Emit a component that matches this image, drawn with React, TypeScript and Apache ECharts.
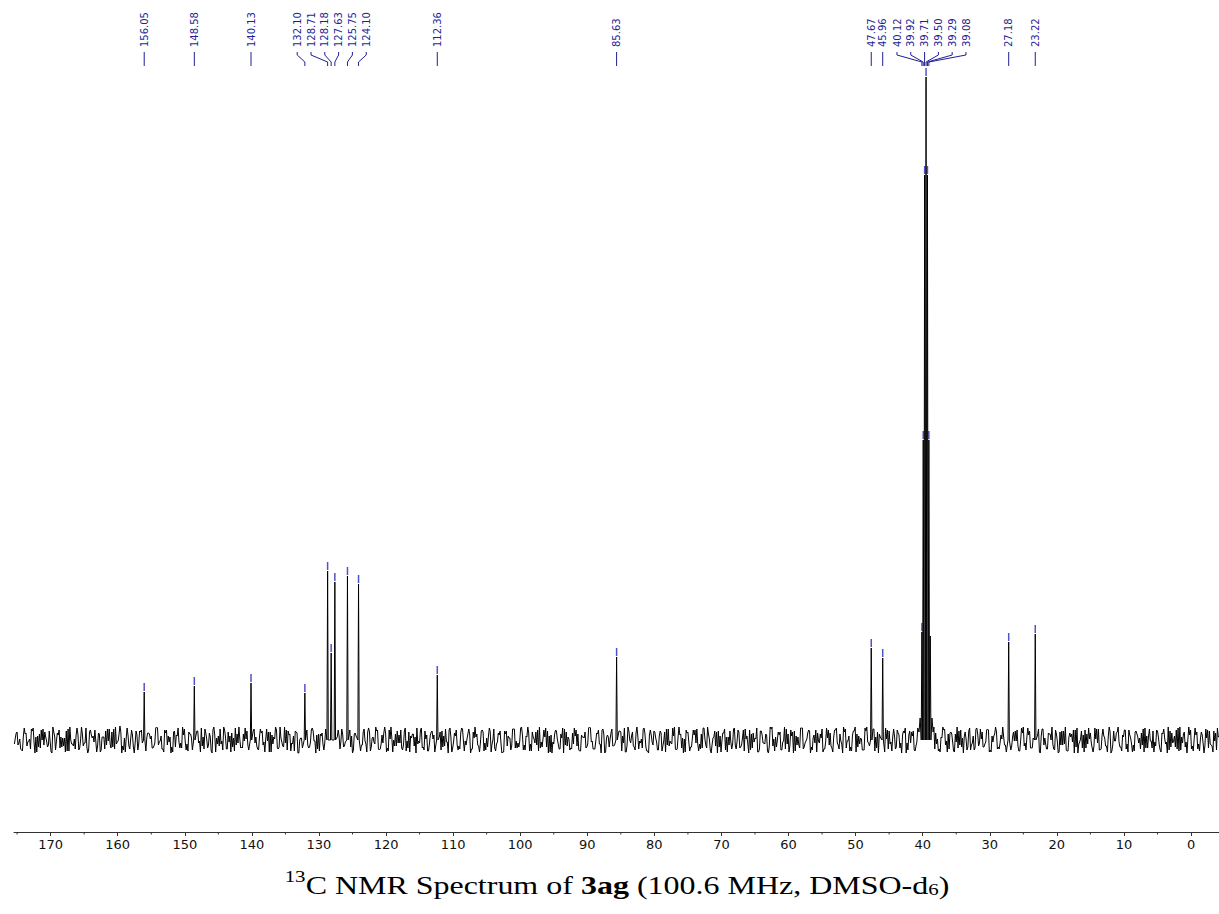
import React, { useEffect, useRef } from "react";
import * as echarts from "echarts";

// ---------- axis ----------
const X_MIN = -4.17;
const X_MAX = 175.46;
const Y_MIN = -92;
const Y_MAX = 700;
const MAJOR_TICKS = [170, 160, 150, 140, 130, 120, 110, 100, 90, 80, 70, 60, 50, 40, 30, 20, 10, 0];
const MINOR_TICKS = [175, 165, 155, 145, 135, 125, 115, 105, 95, 85, 75, 65, 55, 45, 35, 25, 15, 5];

// ---------- labelled peaks ----------
const PEAK_LABELS = [
  "156.05", "148.58", "140.13", "132.10", "128.71", "128.18", "127.63", "125.75", "124.10",
  "112.36", "85.63", "47.67", "45.96", "40.12", "39.92", "39.71", "39.50", "39.29", "39.08",
  "27.18", "23.22",
];
const PEAK_PPM = [
  156.05, 148.58, 140.13, 132.1, 128.71, 128.18, 127.63, 125.75, 124.1,
  112.36, 85.63, 47.67, 45.96, 40.12, 39.92, 39.71, 39.5, 39.29, 39.08,
  27.18, 23.22,
];
const PEAK_HEIGHT = [
  48, 54, 57, 47, 169, 87, 158, 164, 156,
  65, 83, 92, 82, 108, 300, 565, 663, 565, 300,
  98, 106,
];

// unlabelled solvent line and broadened solvent foot
const EXTRA_PPM = [38.87];
const EXTRA_HEIGHT = [104];
const FOOT_PPM = [40.55, 40.38, 38.62, 38.45];
const FOOT_VAL = [8, 22, 22, 8];

// ---------- baseline noise ----------
// three interleaved traces: A at NOISE_START - i*STEP, B a third of a step further, C two thirds
const NOISE_START = 175.4;
const NOISE_STEP = 0.4;
const NOISE_A = [
  -4, 8, 1, -11, 6, -2, -9, 12, 3, -7, 10, -5, -1, 9, -13, 4, 7, -8, 2, -12, 11, 0, -6, 5, -10, 13, -3, -7, 8, 2,
  10, -6, -12, 3, 9, -1, -8, 11, -4, 6, -13, 2, 12, -9, 5, -3, -10, 8, 1, -11, 7, 4, -6, 13, -2, -9, 10, -5, 3, -12,
  -7, 12, -3, 5, -10, 8, 2, -13, 9, -1, -6, 11, -8, 3, 10, -12, 4, -4, 13, -9, -2, 7, -11, 6, 1, -8, 12, -5, -10, 9,
  3, -10, 7, -2, 11, -12, 5, 1, -8, 13, -6, -3, 9, -11, 4, 8, -13, 2, -5, 10, -7, 12, -1, -9, 6, -4, 11, -12, 3, 7,
  -9, 4, 11, -6, -1, 10, -13, 7, 3, -11, 8, -4, 12, -7, -2, 9, -10, 5, 13, -8, 1, -12, 6, -3, 10, -5, -11, 8, 2, -6,
  12, -3, -8, 9, -11, 5, 1, -7, 13, -10, 4, -2, 10, -12, 7, -5, -9, 11, -1, 6, -13, 8, 3, -6, 9, -11, 2, 12, -4, -8,
  -2, 9, -12, 6, 4, -10, 11, -1, -7, 13, -5, 3, -11, 8, -3, 10, -8, 1, 12, -13, 5, -4, 9, -9, 2, 11, -6, -10, 7, 4,
  6, -11, 3, -8, 12, -2, -9, 7, -4, 10, -13, 5, 1, -6, 11, -10, 8, -3, -12, 9, 4, -7, 13, -1, -8, 6, -11, 10, -5, 2,
  -10, 7, -1, 11, -6, -4, 13, -9, 5, 2, -12, 8, -7, 10, -3, -11, 6, 12, -8, 1, -5, 9, -13, 4, 7, -10, 3, -2, 11, -9,
  8, -5, -11, 4, 10, -8, 2, -12, 9, -3, 6, -13, 11, 1, -7, 5, -10, 13, -4, -6, 8, -11, 3, 12, -9, -1, 10, -7, 5, -12,
  -3, 11, -9, 2, 7, -12, 10, -5, -1, 13, -8, 4, -11, 9, 6, -4, -10, 12, -2, -7, 11, 3, -13, 8, -6, 1, 9, -11, 4, 10,
  -8, 5, 12, -10, -3, 9, -6, 11, -13, 2, 7, -4, 10, -9, 1, -12, 13, -5, 6, 8, -11, -2, 9, -7, 4, -10, 12, -3, -8, 6,
  11, -7, -2, 10, -12, 4, 8, -9, 1, -5, 12, -11, 3, 9, -6, -1, 13, -10, 5, -8, 7, -3, -12, 11, 2, -9, 6, -4, 10, -13,
  -5, 9, -10, 3, 6, -13, 12, -2, -8, 10, -4, 7, -12, 1, 11, -9, 4, -6, 13, -11, -1, 8, -7, 5, 10, -12, 2, -5, 9, -3,
  7, -12, 4, 11, -8, -2, 9, -10, 6, -4, 13, -7, -1, 10, -11, 3, 8, -13, 5, -6, 12, -9, 1, -3, 11, -8, -5, 9, -10, 4,
];
const NOISE_B = [
  2, -5, -9, 4, 7, -1, 11, -3, -12, 6, 0, 8, -7, -2, 13, -10, 5, 3, -6, 9, -11, -4, 1, 12, -8, 6, -3, -13, 10, 4,
  -1, 7, -10, 3, -5, 11, 8, -9, -2, 14, -6, -12, 5, 1, -7, 9, -4, 10, -11, 2, 6, -8, -3, 12, -1, -9, 7, 4, -13, 8,
  5, -2, -8, 11, -4, 6, -10, 0, 9, -12, 3, 7, -5, -11, 13, 2, -6, -1, 10, -9, 4, -7, 12, -3, -8, 6, 1, -10, 5, 11,
  -6, 3, 9, -12, -1, 8, -4, 13, -9, 2, -7, 10, 5, -3, -11, 7, 0, -8, 12, -5, -2, 9, -13, 6, 4, -10, 8, -1, -6, 11,
  3, -9, 6, -2, 12, -7, -10, 4, 1, -5, 11, -12, 8, 2, -4, 10, -9, -3, 7, -11, 13, 0, -6, 5, -8, 9, -1, -12, 6, 3,
  -4, 10, -7, 1, -11, 8, 5, -13, 3, 9, -6, -2, 12, -8, 4, -10, 7, -1, -5, 11, -9, 2, 6, -12, 10, -3, -7, 8, 0, -11,
  7, -3, -12, 9, 2, -6, 11, -8, -1, 5, -10, 13, -4, 3, 8, -11, -2, 10, -7, 4, -13, 6, 1, -9, 12, -5, 3, -8, -4, 10,
  -10, 5, 2, -7, 13, -1, -9, 6, -4, 11, -12, 3, 7, -6, -2, 9, -11, 12, -5, 0, 8, -10, 4, -3, 11, -7, -13, 5, 9, -2,
  4, -11, 8, -5, -1, 12, -9, 3, 6, -13, 10, -2, -7, 5, 11, -4, -8, 1, 13, -10, 2, -6, 9, -12, 7, 3, -5, -9, 12, -1,
  -8, 2, 11, -4, -10, 7, 1, -12, 9, -3, 5, -6, 13, -11, 0, 8, -2, -9, 6, 10, -13, 4, -5, 12, -7, 1, 9, -10, -3, 7,
  6, -12, -2, 10, -6, 3, 12, -9, -4, 8, -1, -11, 5, 13, -7, 2, -10, 9, -3, -5, 11, -8, 6, 0, -12, 10, -4, 3, -9, 7,
  -3, 9, -13, 5, 8, -10, -2, 11, -6, 1, 12, -8, -4, 7, -11, 3, 10, -1, -9, 6, -12, 13, -5, 2, 8, -7, -10, 4, 11, -6,
  1, -7, 10, -12, 4, 6, -9, -3, 13, -5, 2, -10, 8, -1, -11, 12, -6, 3, 9, -8, -2, 5, -13, 11, -4, 7, 0, -9, 6, -12,
  9, -4, -11, 7, -2, 10, -13, 1, 5, -8, 12, -3, -6, 11, -10, 4, 2, -12, 8, -5, -1, 13, -7, 3, -9, 10, -4, -11, 6, 2,
  -5, 12, -8, -1, 9, -6, 3, -12, 11, -2, -10, 7, 4, -9, 13, -3, -7, 1, 10, -11, 5, -4, 8, -13, 2, 9, -6, -1, 12, -8,
];
const NOISE_C = [
  7, -3, -10, 12, -6, 1, 9, -13, 4, -8, 11, 3, -5, -12, 8, -1, 10, -7, 2, -11, 13, -4, -9, 6, 0, -6, 12, -10, 5, -2,
  -12, 6, 3, -9, 11, -4, -7, 13, -1, 8, -10, 2, -6, 10, -13, 5, 9, -3, -11, 7, 1, -8, 12, -5, 4, -12, 10, -2, -7, 9,
  4, -8, 13, -2, -11, 6, 10, -6, -3, 12, -9, 1, 7, -13, 5, -4, 11, -10, 3, 8, -12, 2, -5, 13, -7, -1, 9, -11, 6, -3,
  -9, 11, -5, 1, 8, -12, 3, 10, -7, -2, 13, -10, 6, -4, 9, -13, 2, 12, -6, -8, 10, -1, 5, -11, 7, -3, 11, -9, 1, 13,
  10, -2, -7, 9, -13, 4, 6, -10, 12, -5, -1, 8, -11, 3, 13, -9, -4, 7, -12, 10, 2, -6, 9, -3, -10, 12, -8, 4, 6, -13,
  -1, 12, -10, 5, -4, 9, -12, 2, 8, -7, 11, -13, 3, -2, 10, -6, 12, -11, 1, 6, -9, 13, -5, -3, 8, -10, 4, -12, 11, -4,
  5, -13, 9, -6, 2, 11, -8, -3, 12, -10, 4, 7, -11, 1, -5, 13, -7, 3, 9, -12, -2, 10, -4, 6, -13, 8, 1, -9, 12, -6,
  -11, 3, 8, -4, 12, -9, -1, 10, -13, 6, 2, -7, 11, -5, -10, 9, 4, -12, 13, -3, -6, 7, -9, 1, 12, -11, 5, -2, 8, -10,
  9, -6, -12, 11, -3, 4, -10, 13, -8, 1, 7, -11, 2, 10, -4, -9, 12, -5, 6, -13, 3, 8, -7, -1, 11, -12, 9, -4, -6, 10,
  -7, 10, 1, -13, 6, -2, 12, -9, 5, -4, -11, 13, -6, 3, 8, -10, -1, 11, -12, 4, 9, -5, -8, 12, -3, 7, -13, 2, 10, -1,
  2, -9, 12, -5, -8, 10, -3, 6, -13, 11, -1, -7, 9, -12, 4, 1, -10, 13, -6, 5, -11, 8, 3, -4, 12, -9, -2, 11, -7, 5,
  -13, 7, -3, 9, 4, -11, 12, -1, -6, 8, -10, 5, 13, -4, -9, 2, 11, -12, 7, -2, 6, -8, 10, -13, 1, 9, -5, -10, 12, -3,
  8, -4, 11, -10, -2, 13, -7, 5, 3, -12, 9, -6, -1, 10, -11, 7, -3, 12, -8, 2, -13, 11, 4, -5, -9, 6, 13, -10, -1, 8,
  -5, 13, -11, 3, 10, -7, -4, 9, -12, 6, 1, -8, 12, -3, -10, 11, -6, 4, -13, 9, 7, -2, -11, 10, -4, 5, -12, 8, 3, -9,
  11, -8, 4, -1, -12, 10, -5, 7, 2, -13, 9, -3, -7, 12, -10, 6, -2, 13, -9, 1, 8, -11, 5, -6, 10, -4, -12, 7, 3, -7,
];

// ---------- layout / style ----------
const BLUE = "#1f1f96";
const MARK_BLUE = "#5252c8";
const PEAK_HALF_WIDTH = 0.1;
const NOISE_GAP = 0.25;
const SOLVENT_GAP = [38.4, 40.6];
const LABEL_SPACING = 13.8;
const LABEL_CLUSTERS = [
  { from: 3, to: 8, shift: 0 },
  { from: 13, to: 18, shift: 6.1 },
];
const LABEL_BOTTOM = 47;
const CONNECT_TOP = 52;
const CONNECT_BEND1 = 55;
const CONNECT_BEND2 = 62;
const CONNECT_END = 66;

function buildSpectrum(): [number, number][] {
  const pts: [number, number][] = [];
  const allPeaks = PEAK_PPM.concat(EXTRA_PPM);
  const addNoise = (x: number, v: number) => {
    if (allPeaks.some((p) => Math.abs(p - x) < NOISE_GAP)) return;
    if (x > SOLVENT_GAP[0] && x < SOLVENT_GAP[1]) return;
    pts.push([x, v]);
  };
  NOISE_A.forEach((v, i) => addNoise(NOISE_START - i * NOISE_STEP, v));
  NOISE_B.forEach((v, i) => addNoise(NOISE_START - NOISE_STEP / 3 - i * NOISE_STEP, v));
  NOISE_C.forEach((v, i) => addNoise(NOISE_START - (2 * NOISE_STEP) / 3 - i * NOISE_STEP, v));
  const addPeak = (p: number, h: number) => {
    pts.push([p + PEAK_HALF_WIDTH, 0]);
    pts.push([p, h]);
    pts.push([p - PEAK_HALF_WIDTH, 0]);
  };
  PEAK_PPM.forEach((p, i) => addPeak(p, PEAK_HEIGHT[i]));
  EXTRA_PPM.forEach((p, i) => addPeak(p, EXTRA_HEIGHT[i]));
  FOOT_PPM.forEach((p, i) => pts.push([p, FOOT_VAL[i]]));
  pts.sort((a, b) => b[0] - a[0]);
  return pts;
}

function labelPositions(px: number[]): number[] {
  const out = px.slice();
  LABEL_CLUSTERS.forEach((c) => {
    const n = c.to - c.from + 1;
    const center = (px[c.from] + px[c.to]) / 2 + c.shift;
    for (let k = 0; k < n; k++) out[c.from + k] = center + (k - (n - 1) / 2) * LABEL_SPACING;
  });
  return out;
}

export default function App() {
  const ref = useRef<HTMLDivElement>(null);

  useEffect(() => {
    if (!ref.current) return;
    const chart = echarts.init(ref.current, null, { renderer: "svg" });
    const spectrum = buildSpectrum();

    const option: any = {
      animation: false,
      backgroundColor: "#ffffff",
      grid: { left: 14, right: 0, top: 40, bottom: 82, containLabel: false },
      xAxis: {
        type: "value",
        min: X_MIN,
        max: X_MAX,
        inverse: true,
        position: "bottom",
        axisLine: { show: true, onZero: false, lineStyle: { color: "#333", width: 1 } },
        axisTick: {
          show: true,
          customValues: MAJOR_TICKS,
          length: 4,
          lineStyle: { color: "#333", width: 1 },
        },
        axisLabel: {
          show: true,
          customValues: MAJOR_TICKS,
          fontSize: 13,
          fontFamily: "DejaVu Sans",
          color: "#111",
          margin: 6,
        },
        splitLine: { show: false },
      },
      yAxis: {
        type: "value",
        min: Y_MIN,
        max: Y_MAX,
        show: false,
        splitLine: { show: false },
      },
      series: [
        {
          type: "line",
          data: spectrum,
          showSymbol: false,
          symbol: "none",
          silent: true,
          clip: true,
          lineStyle: { color: "#000", width: 1 },
        },
        {
          type: "custom",
          silent: true,
          data: MINOR_TICKS.map((v) => [v, Y_MIN]),
          renderItem: (params: any, api: any) => {
            const p = api.coord([api.value(0), Y_MIN]);
            return {
              type: "line",
              shape: { x1: p[0], y1: p[1], x2: p[0], y2: p[1] + 2.5 },
              style: { stroke: "#333", lineWidth: 1 },
            };
          },
        },
        {
          type: "custom",
          silent: true,
          clip: false,
          data: PEAK_PPM.map((p, i) => [p, PEAK_HEIGHT[i]]),
          renderItem: (params: any, api: any) => {
            const i = params.dataIndex;
            const px = PEAK_PPM.map((p, j) => api.coord([p, PEAK_HEIGHT[j]])[0]);
            const lxs = labelPositions(px);
            const top = api.coord([PEAK_PPM[i], PEAK_HEIGHT[i]]);
            const lx = lxs[i];
            const pxi = top[0];
            const moved = Math.abs(lx - pxi) > 0.5;
            const points = moved
              ? [
                  [lx, CONNECT_TOP],
                  [lx, CONNECT_BEND1],
                  [pxi, CONNECT_BEND2],
                  [pxi, CONNECT_END],
                ]
              : [
                  [lx, CONNECT_TOP],
                  [lx, CONNECT_END],
                ];
            return {
              type: "group",
              children: [
                {
                  type: "text",
                  x: lx,
                  y: LABEL_BOTTOM,
                  rotation: Math.PI / 2,
                  scaleY: 1.12,
                  style: {
                    text: PEAK_LABELS[i],
                    fill: BLUE,
                    font: '10px "DejaVu Sans"',
                    align: "left",
                    verticalAlign: "middle",
                  },
                },
                {
                  type: "polyline",
                  shape: { points },
                  style: { stroke: BLUE, lineWidth: 1, fill: "none" },
                },
                {
                  type: "line",
                  shape: { x1: pxi, y1: top[1] - 9, x2: pxi, y2: top[1] - 1 },
                  style: { stroke: MARK_BLUE, lineWidth: 1.5 },
                },
              ],
            };
          },
        },
      ],
      graphic: [
        {
          type: "text",
          x: 617,
          y: 883,
          scaleX: 1.23,
          style: {
            text: "{sup|13}{n|C NMR Spectrum of }{b|3ag}{n| (100.6 MHz, DMSO-d}{sub|6}{n|)}",
            align: "center",
            verticalAlign: "middle",
            fill: "#000",
            rich: {
              n: {
                fontFamily: "Liberation Serif",
                fontSize: 26,
                lineHeight: 30,
                verticalAlign: "bottom",
                fill: "#000",
              },
              b: {
                fontFamily: "Liberation Serif",
                fontSize: 26,
                fontWeight: "bold",
                lineHeight: 30,
                verticalAlign: "bottom",
                fill: "#000",
              },
              sup: {
                fontFamily: "Liberation Serif",
                fontSize: 17,
                lineHeight: 24,
                verticalAlign: "top",
                fill: "#000",
              },
              sub: {
                fontFamily: "Liberation Serif",
                fontSize: 17,
                lineHeight: 14,
                verticalAlign: "bottom",
                fill: "#000",
              },
            },
          },
        },
      ],
    };

    chart.setOption(option);
    return () => chart.dispose();
  }, []);

  return (
    <div
      ref={ref}
      style={{ position: "absolute", left: 0, top: 0, width: 1219, height: 914, background: "#fff" }}
    />
  );
}
